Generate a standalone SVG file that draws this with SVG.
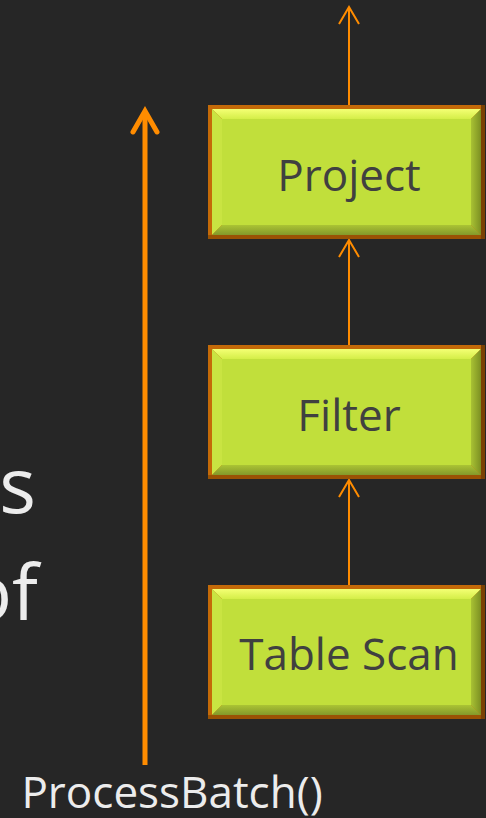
<svg xmlns="http://www.w3.org/2000/svg" width="486" height="818" viewBox="0 0 486 818">
  <style>
    .label { font-family: "Open Sans", "Noto Sans", "DejaVu Sans", sans-serif; font-size: 44px; fill: #404040; text-anchor: middle; }
    .light { font-family: "Open Sans", "Noto Sans", "DejaVu Sans", sans-serif; fill: #ececec; }
    .thin { stroke: #ff8c00; stroke-width: 2; fill: none; }
    .thick { stroke: #ff8c00; stroke-width: 5; fill: none; }
  </style>
  <defs>
    <linearGradient id="topBevel" x1="0" y1="0" x2="0" y2="1">
      <stop offset="0" stop-color="#f4ff74"/>
      <stop offset="1" stop-color="#d4ee48"/>
    </linearGradient>
    <linearGradient id="rightBevel" x1="0" y1="0" x2="1" y2="0">
      <stop offset="0" stop-color="#a9c234"/>
      <stop offset="1" stop-color="#7c9022"/>
    </linearGradient>
    <linearGradient id="bottomBevel" x1="0" y1="0" x2="0" y2="1">
      <stop offset="0" stop-color="#aac434"/>
      <stop offset="1" stop-color="#84982a"/>
    </linearGradient>
    <g id="box">
      <rect x="0" y="0" width="277" height="134" fill="#c46a08"/>
      <rect x="0" y="130" width="277" height="4" fill="#9a5204"/>
      <rect x="273" y="0" width="4" height="134" fill="#7a4204"/>
      <polygon points="4,4 273,4 263,14 14,14" fill="url(#topBevel)"/>
      <polygon points="4,4 14,14 14,120 4,130" fill="#c9e442"/>
      <polygon points="273,4 273,130 263,120 263,14" fill="url(#rightBevel)"/>
      <polygon points="4,130 14,120 263,120 273,130" fill="url(#bottomBevel)"/>
      <rect x="14" y="14" width="249" height="106" fill="#c1df3b"/>
    </g>
    <marker id="chev" markerUnits="userSpaceOnUse" viewBox="-12 -2 24 22" refX="0" refY="0" markerWidth="24" markerHeight="22" orient="auto-start-reverse" overflow="visible">
      <path d="M -10 17 L 0 0 L 10 17" fill="none" stroke="#ff8c00" stroke-width="2"/>
    </marker>
  </defs>
  <rect x="0" y="0" width="486" height="818" fill="#262626"/>

  <g id="side-text">
    <text class="light" x="36" y="513" font-size="77" text-anchor="end">s</text>
    <text class="light" x="38" y="620" font-size="77" text-anchor="end">of</text>
    <text class="light" x="172" y="808" font-size="44" text-anchor="middle">ProcessBatch()</text>
  </g>

  <g id="connectors">
    <line class="thick" x1="145" y1="765" x2="145" y2="113"/>
    <path d="M 133 132 L 145 111 L 157 132" fill="none" stroke="#ff8c00" stroke-width="5" stroke-linecap="round" stroke-linejoin="miter"/>
    <path class="thin" d="M 349 105 L 349 7"/>
    <path class="thin" d="M 339 24 L 349 7 L 359 24"/>
    <path class="thin" d="M 349 345 L 349 240"/>
    <path class="thin" d="M 339 257 L 349 240 L 359 257"/>
    <path class="thin" d="M 349 585 L 349 480"/>
    <path class="thin" d="M 339 497 L 349 480 L 359 497"/>
  </g>

  <g id="project">
    <use href="#box" x="208" y="105"/>
    <text class="label" x="349" y="191">Project</text>
  </g>
  <g id="filter">
    <use href="#box" x="208" y="345"/>
    <text class="label" x="349" y="431">Filter</text>
  </g>
  <g id="table-scan">
    <use href="#box" x="208" y="585"/>
    <text class="label" x="349" y="670">Table Scan</text>
  </g>
</svg>
